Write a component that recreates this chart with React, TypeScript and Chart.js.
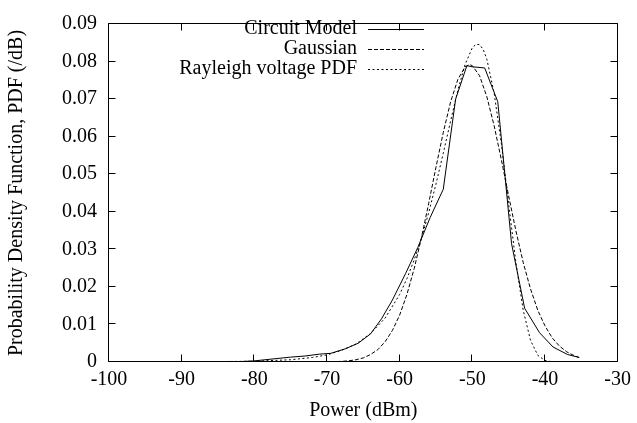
import React, { useEffect, useRef } from 'react';
import { Chart, registerables } from 'chart.js';

Chart.register(...registerables);

// ---- data ----
const seriesLabels = ['Circuit Model', 'Gaussian', 'Rayleigh voltage PDF'];

const xTickValues = [-100, -90, -80, -70, -60, -50, -40, -30];
const yTickValues = [0, 0.01, 0.02, 0.03, 0.04, 0.05, 0.06, 0.07, 0.08, 0.09];

const circuitX = [-100, -90, -82, -80, -77, -75, -73, -71, -69.5, -67.5, -65.7, -64, -62.5, -61, -59.2, -57.5, -55.8, -54, -52.3, -50.75, -50, -48.3, -46.5, -44.6, -42.8, -40.75, -38.9, -36.9, -35.3];
const circuitY = [0, 0, 0.0001, 0.0003, 0.0009, 0.0013, 0.0016, 0.0021, 0.0023, 0.0035, 0.005, 0.0075, 0.0115, 0.0165, 0.0235, 0.0305, 0.0385, 0.046, 0.07, 0.0789, 0.0786, 0.0783, 0.0693, 0.0315, 0.0143, 0.0078, 0.004, 0.002, 0.0012];

const gaussX = [-100, -80, -72, -70, -68, -67, -66, -65, -64, -63, -62, -61, -60, -59, -58, -57, -56, -55, -54, -53, -52, -51, -50.4, -50, -49, -48, -47, -46, -45, -44, -43, -42, -41, -40, -39, -38, -37, -36, -35.3];
const gaussY = [0, 0, 0.00001, 0.00004, 0.00016, 0.00032, 0.0006, 0.0011, 0.002, 0.0033, 0.0054, 0.0084, 0.0125, 0.018, 0.0249, 0.0331, 0.0423, 0.0519, 0.0611, 0.0692, 0.0752, 0.0786, 0.0792, 0.0789, 0.0762, 0.0706, 0.0629, 0.0538, 0.0442, 0.0349, 0.0265, 0.0195, 0.0138, 0.0096, 0.0064, 0.0042, 0.0027, 0.0017, 0.0012];

const rayX = [-100, -90, -80, -75, -72, -70, -68, -66, -64, -62, -60, -59, -58, -57, -56, -55, -54, -53, -52, -51, -50, -49.5, -49, -48.5, -48, -47, -46, -45, -44, -43, -42, -41, -40, -39, -38, -35.3];
const rayY = [0, 0.00002, 0.0002, 0.0006, 0.0012, 0.0019, 0.0031, 0.0048, 0.0076, 0.0117, 0.018, 0.0222, 0.0272, 0.033, 0.0398, 0.0474, 0.0556, 0.0641, 0.0723, 0.0792, 0.0837, 0.0846, 0.0845, 0.0832, 0.0806, 0.0716, 0.0581, 0.042, 0.0264, 0.0138, 0.0058, 0.0018, 0.0004, 0.00005, 0, 0];

const xTitle = 'Power (dBm)';
const yTitle = 'Probability Density Function, PDF (/dB)';

const FONT_FAMILY = '"Liberation Serif", "Times New Roman", Times, serif';
const FONT_SIZE = 20;

const pairs = (xs: number[], ys: number[]) => xs.map((x, i) => ({ x, y: ys[i] }));

const gnuplotFrame = {
  id: 'gnuplotFrame',
  afterDatasetsDraw(chart: any) {
    const { ctx, chartArea, scales } = chart;
    const { left, right, top, bottom } = chartArea;
    const xs = scales.x;
    const ys = scales.y;
    const L = Math.round(left) - 0.5;
    const R = Math.round(right) - 0.5;
    const T = Math.round(top) - 0.5;
    const B = Math.round(bottom) - 0.5;
    const tl = 7;
    ctx.save();
    ctx.strokeStyle = '#000';
    ctx.lineWidth = 1;
    ctx.setLineDash([]);
    ctx.beginPath();
    ctx.rect(L, T, R - L, B - T);
    xs.ticks.forEach((t: any) => {
      const px = Math.round(xs.getPixelForValue(t.value)) - 0.5;
      ctx.moveTo(px, B);
      ctx.lineTo(px, B - tl);
      ctx.moveTo(px, T);
      ctx.lineTo(px, T + tl);
    });
    ys.ticks.forEach((t: any) => {
      const py = Math.round(ys.getPixelForValue(t.value)) - 0.5;
      ctx.moveTo(L, py);
      ctx.lineTo(L + tl, py);
      ctx.moveTo(R, py);
      ctx.lineTo(R - tl, py);
    });
    ctx.stroke();

    // gnuplot-style key: right-aligned text, sample line on the right
    ctx.font = `${FONT_SIZE}px ${FONT_FAMILY}`;
    ctx.fillStyle = '#000';
    ctx.textAlign = 'right';
    ctx.textBaseline = 'middle';
    const textRight = 357;
    const sampleX1 = 368;
    const sampleX2 = 424;
    chart.data.datasets.forEach((ds: any, i: number) => {
      const rowY = 29 + i * 20;
      ctx.fillText(ds.label, textRight, rowY);
      ctx.beginPath();
      ctx.strokeStyle = ds.borderColor;
      ctx.lineWidth = ds.borderWidth;
      ctx.setLineDash(ds.borderDash || []);
      ctx.moveTo(sampleX1, rowY + 0.5);
      ctx.lineTo(sampleX2, rowY + 0.5);
      ctx.stroke();
    });
    ctx.restore();
  },
};

export default function App() {
  const canvasRef = useRef<HTMLCanvasElement | null>(null);

  useEffect(() => {
    document.body.style.margin = '0';
    const canvas = canvasRef.current;
    if (!canvas) return;
    const font = { family: FONT_FAMILY, size: FONT_SIZE };
    const chart = new Chart(canvas, {
      type: 'line',
      data: {
        datasets: [
          {
            label: seriesLabels[0],
            data: pairs(circuitX, circuitY),
            borderColor: '#000',
            borderWidth: 1,
            pointRadius: 0,
            fill: false,
          },
          {
            label: seriesLabels[1],
            data: pairs(gaussX, gaussY),
            borderColor: '#000',
            borderWidth: 1,
            borderDash: [4, 2],
            pointRadius: 0,
            fill: false,
          },
          {
            label: seriesLabels[2],
            data: pairs(rayX, rayY),
            borderColor: '#000',
            borderWidth: 1,
            borderDash: [2, 2.5],
            pointRadius: 0,
            fill: false,
          },
        ],
      },
      options: {
        responsive: false,
        animation: false,
        devicePixelRatio: 1,
        layout: { padding: { left: 0, top: 13, right: 15, bottom: 0 } },
        plugins: {
          legend: { display: false },
          tooltip: { enabled: false },
        },
        scales: {
          x: {
            type: 'linear',
            min: xTickValues[0],
            max: xTickValues[xTickValues.length - 1],
            afterBuildTicks: (scale: any) => {
              scale.ticks = xTickValues.map((v) => ({ value: v }));
            },
            afterFit: (scale: any) => {
              scale.height = 61;
            },
            grid: { display: false, drawTicks: false },
            border: { display: false },
            ticks: {
              color: '#000',
              font,
              padding: 6,
              maxRotation: 0,
              autoSkip: false,
              callback: (v: any) => String(v),
            },
            title: {
              display: true,
              text: xTitle,
              color: '#000',
              font,
              padding: { top: 0, bottom: 0 },
            },
          },
          y: {
            type: 'linear',
            min: yTickValues[0],
            max: yTickValues[yTickValues.length - 1],
            afterBuildTicks: (scale: any) => {
              scale.ticks = yTickValues.map((v) => ({ value: v }));
            },
            afterFit: (scale: any) => {
              scale.width = 109;
            },
            grid: { display: false, drawTicks: false },
            border: { display: false },
            ticks: {
              color: '#000',
              font,
              padding: 12,
              autoSkip: false,
              callback: (v: any) => (Number(v) === 0 ? '0' : Number(v).toFixed(2)),
            },
            title: {
              display: true,
              text: yTitle,
              color: '#000',
              font,
              padding: { top: 5, bottom: 0 },
            },
          },
        },
      },
      plugins: [gnuplotFrame],
    });
    return () => chart.destroy();
  }, []);

  return (
    <div style={{ width: 637, height: 423 }}>
      <canvas ref={canvasRef} width={637} height={423} style={{ display: 'block', width: 637, height: 423 }} />
    </div>
  );
}
